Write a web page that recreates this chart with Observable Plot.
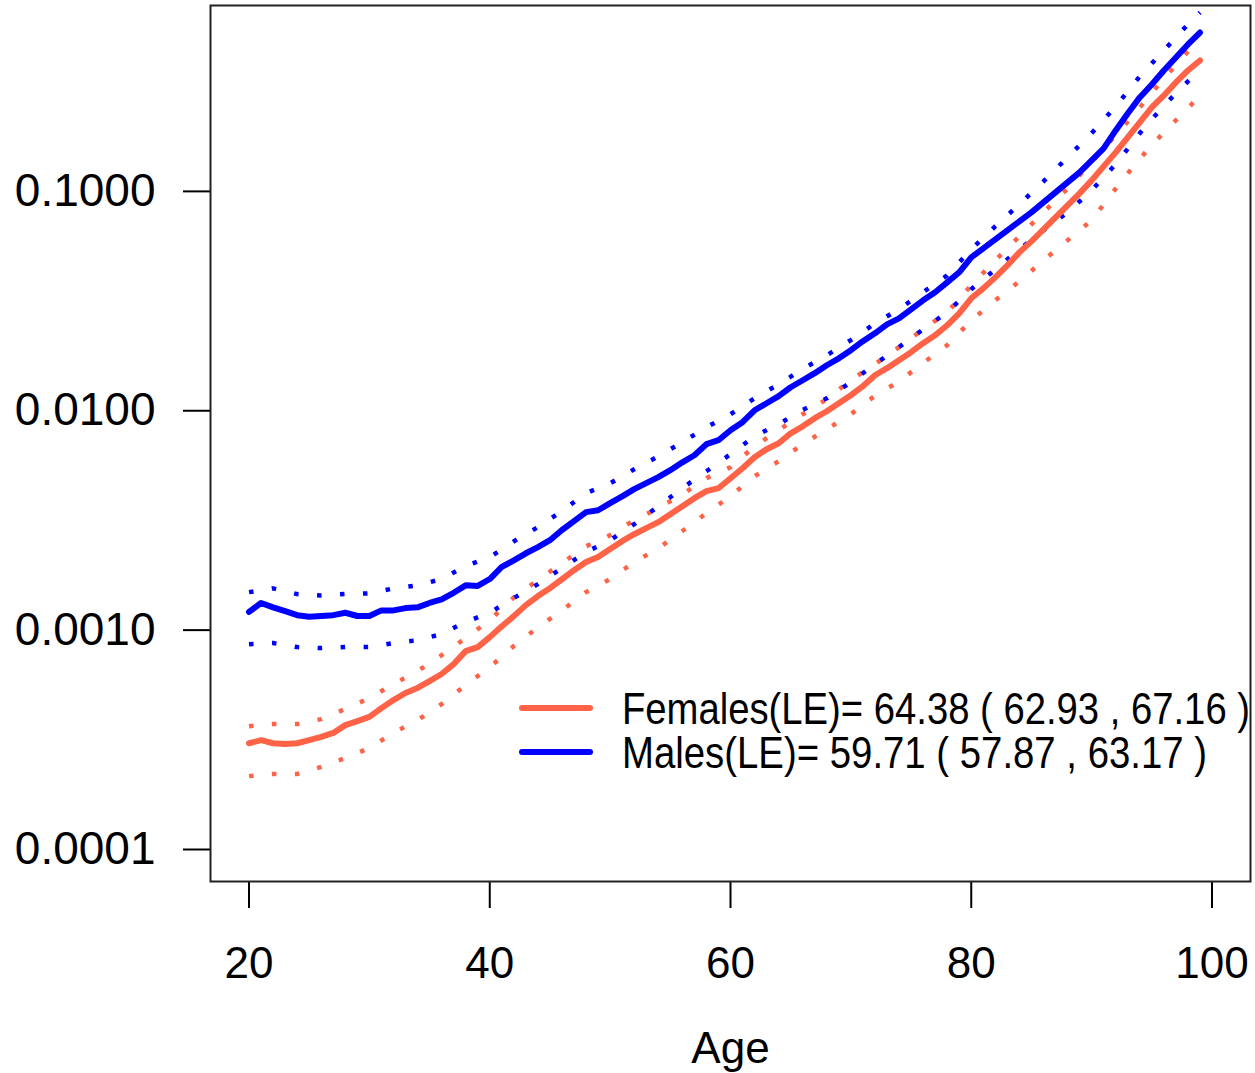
<!DOCTYPE html>
<html><head><meta charset="utf-8">
<script src="https://cdn.jsdelivr.net/npm/d3@7"></script>
<script src="https://cdn.jsdelivr.net/npm/@observablehq/plot@0.6"></script>
<style>
body{margin:0;background:#fff;}
#wrap{position:relative;width:1255px;height:1073px;overflow:hidden;}
</style></head><body><div id="wrap"></div>
<script>
const ages = [20,21,22,23,24,25,26,27,28,29,30,31,32,33,34,35,36,37,38,39,40,41,42,43,44,45,46,47,48,49,50,51,52,53,54,55,56,57,58,59,60,61,62,63,64,65,66,67,68,69,70,71,72,73,74,75,76,77,78,79,80,81,82,83,84,85,86,87,88,89,90,91,92,93,94,95,96,97,98,99];
const femalesRate = [0.000305,0.000315,0.000305,0.000303,0.000305,0.000315,0.000326,0.000340,0.000369,0.000385,0.000402,0.000441,0.000480,0.000517,0.000545,0.000586,0.000631,0.000700,0.000802,0.000837,0.000929,0.001042,0.001158,0.001300,0.001429,0.001553,0.001706,0.001876,0.002042,0.002153,0.002341,0.002543,0.002737,0.002917,0.003105,0.003375,0.003672,0.003994,0.004299,0.004436,0.004925,0.00547,0.006141,0.006677,0.007112,0.007894,0.008492,0.009247,0.00995,0.01082,0.01177,0.01294,0.01452,0.01563,0.0170,0.01849,0.02032,0.02208,0.02453,0.02782,0.03257,0.03614,0.04055,0.0460,0.05273,0.05918,0.06713,0.07617,0.08635,0.0979,0.1122,0.130,0.1506,0.1762,0.2062,0.2413,0.2737,0.3138,0.3558,0.3951];
const malesRate = [0.00121,0.00133,0.00127,0.00122,0.00117,0.00115,0.00116,0.00117,0.00120,0.00116,0.00116,0.00123,0.00123,0.00126,0.00127,0.00133,0.00138,0.00148,0.00160,0.00159,0.00171,0.00194,0.00208,0.00224,0.00239,0.00257,0.00286,0.00314,0.00345,0.00352,0.00379,0.00407,0.00439,0.00468,0.00498,0.00536,0.00582,0.00627,0.00704,0.00734,0.00815,0.00887,0.01005,0.01082,0.01165,0.0128,0.01377,0.01483,0.01612,0.01734,0.01888,0.02075,0.02254,0.02477,0.02637,0.02899,0.03187,0.03467,0.03846,0.04276,0.05003,0.05497,0.06043,0.06645,0.07303,0.0802,0.0891,0.0989,0.1099,0.1221,0.1384,0.157,0.1896,0.2266,0.2681,0.3071,0.3558,0.4077,0.4674,0.5297];

const boundAges = [20,22,24,26,28,30,32,34,36,38,40,42,44,46,48,50,52,54,56,58,60,62,64,66,68,70,72,74,76,78,80,82,84,86,88,90,92,94,96,98,99];
const femalesLower = [0.000216,0.000221,0.000221,0.000238,0.000261,0.000290,0.000340,0.000389,0.000460,0.000562,0.000678,0.000846,0.00103,0.00123,0.00149,0.00171,0.00204,0.00236,0.00283,0.00341,0.00408,0.00503,0.00589,0.00704,0.00824,0.00964,0.0117,0.0136,0.0165,0.0199,0.0258,0.0319,0.0389,0.0485,0.0598,0.0738,0.103,0.141,0.186,0.239,0.274];
const femalesUpper = [0.000365,0.000373,0.000373,0.000393,0.000437,0.000490,0.000568,0.000650,0.000769,0.000920,0.00111,0.00141,0.00169,0.00202,0.00241,0.00271,0.00317,0.00360,0.00416,0.00493,0.00553,0.00689,0.00815,0.00964,0.0113,0.0138,0.0163,0.0195,0.0235,0.0281,0.0373,0.0485,0.0624,0.0802,0.103,0.136,0.180,0.241,0.327,0.434,0.493];
const malesLower = [0.000863,0.000873,0.000837,0.000828,0.000837,0.000837,0.000873,0.000900,0.000959,0.00109,0.00120,0.00140,0.00162,0.00192,0.00227,0.00257,0.00304,0.00367,0.00444,0.00530,0.00634,0.00765,0.00868,0.0101,0.0114,0.0135,0.0163,0.0195,0.0235,0.0281,0.0358,0.0441,0.0544,0.0664,0.0802,0.101,0.133,0.184,0.246,0.317,0.356];
const malesUpper = [0.00149,0.00155,0.00146,0.00144,0.00146,0.00147,0.00155,0.00160,0.00171,0.00196,0.00215,0.00254,0.00295,0.00349,0.00421,0.00467,0.00541,0.00620,0.00719,0.00841,0.00964,0.0114,0.0132,0.0155,0.0179,0.0210,0.0250,0.0290,0.0347,0.0414,0.0544,0.0693,0.0873,0.111,0.143,0.184,0.244,0.334,0.439,0.577,0.654];

const xTicks = [20,40,60,80,100];
const yTicks = [0.0001,0.001,0.01,0.1];
const xLabel = "Age";
const legendLabels = ["Females(LE)= 64.38 ( 62.93 , 67.16 )", "Males(LE)= 59.71 ( 57.87 , 63.17 )"];
const femaleColor = "#FF6347";
const maleColor = "#0000FF";

const femMain = ages.map((a,i)=>({age:a, rate:femalesRate[i]}));
const malMain = ages.map((a,i)=>({age:a, rate:malesRate[i]}));
const bounds = boundAges.map((a,i)=>({age:a, fl:femalesLower[i], fu:femalesUpper[i], ml:malesLower[i], mu:malesUpper[i]}));

const font = "'Liberation Sans', Arial, Helvetica, sans-serif";
const dotted = {strokeDasharray:"4.5,18.5", strokeWidth:4.5, strokeLinecap:"butt"};

const chart = Plot.plot({
  width:1255, height:1073,
  marginLeft:210, marginRight:5, marginTop:5, marginBottom:192,
  style:{fontFamily:font, background:"white", color:"black", overflow:"visible"},
  x:{domain:[16.8,103.2]},
  y:{type:"log", domain:[7.147e-5, 0.7036]},
  marks:[
    Plot.axisY({ticks:yTicks, tickFormat:d3.format(".4f"), tickSize:27, tickPadding:28, fontSize:46, label:null, strokeWidth:2}),
    Plot.axisX({ticks:xTicks, tickFormat:d3.format("d"), tickSize:27, tickPadding:38, fontSize:44, label:null, strokeWidth:2}),
    Plot.text([xLabel], {frameAnchor:"bottom", dy:167, fontSize:44, lineAnchor:"middle"}),
    Plot.line(bounds, {x:"age", y:"fu", stroke:femaleColor, ...dotted}),
    Plot.line(bounds, {x:"age", y:"fl", stroke:femaleColor, ...dotted}),
    Plot.line(bounds, {x:"age", y:"mu", stroke:maleColor, ...dotted}),
    Plot.line(bounds, {x:"age", y:"ml", stroke:maleColor, ...dotted}),
    Plot.line(femMain, {x:"age", y:"rate", stroke:femaleColor, strokeWidth:6, strokeLinejoin:"round", strokeLinecap:"round"}),
    Plot.line(malMain, {x:"age", y:"rate", stroke:maleColor, strokeWidth:6, strokeLinejoin:"round", strokeLinecap:"round"}),
    Plot.frame({stroke:"#222", strokeWidth:2})
  ]
});

// legend (layout overlay)
const svg = d3.select(chart);
const lg = svg.append("g").attr("font-family", font).attr("font-size", 44).attr("text-anchor","start");
const legendColors = [femaleColor, maleColor];
const legendWidths = [628, 585];
legendLabels.forEach((lab, i) => {
  const y = 708 + i*44;
  lg.append("line").attr("x1",522).attr("x2",590).attr("y1",y).attr("y2",y)
    .attr("stroke",legendColors[i]).attr("stroke-width",6).attr("stroke-linecap","round");
  lg.append("text").attr("x",622).attr("y",y+16).attr("fill","black").attr("text-anchor","start")
    .attr("textLength", legendWidths[i]).attr("lengthAdjust","spacingAndGlyphs").text(lab);
});

document.getElementById("wrap").appendChild(chart);
</script></body></html>
